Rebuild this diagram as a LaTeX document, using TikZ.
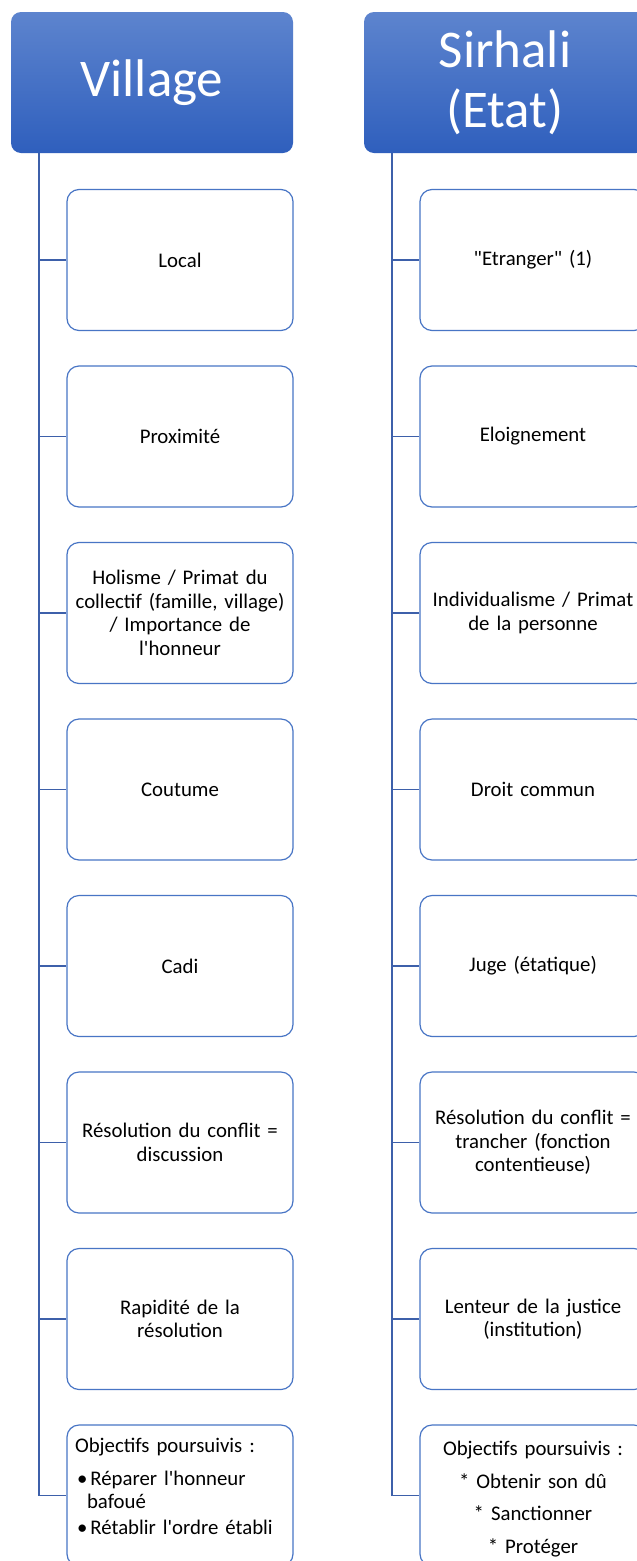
\documentclass[tikz,border=0pt]{standalone}
\usepackage{fontspec}
\setmainfont{Carlito}[Ligatures=TeXOff]
\definecolor{headtop}{RGB}{93,132,206}
\definecolor{headbot}{RGB}{47,95,189}
\definecolor{boxline}{RGB}{72,117,197}
\definecolor{conn}{RGB}{61,96,170}
\begin{document}
\begin{tikzpicture}[x=1pt,y=-1pt,
  header/.style={rounded corners=10pt, top color=headtop, bottom color=headbot,
    minimum width=282pt, minimum height=141pt, text=white,
    font=\fontsize{53}{60}\selectfont, align=center, inner sep=0pt},
  itembox/.style={rounded corners=12pt, draw=boxline, line width=1.2pt, fill=white,
    minimum width=226pt, minimum height=141pt, font=\fontsize{20.8}{23.5}\selectfont,
    align=center, inner sep=0pt, text width=222pt},
  lastbox/.style={itembox, text width=226pt},
  link/.style={draw=conn, line width=1.6pt}]
\clip (0,0) rectangle (637,1561);
\fill[white] (0,0) rectangle (637,1561);
% headers
\node[header] (h1) at (152,82.5) {Village};
\node[header] (h2) at (505,82.5) {Sirhali\\(Etat)};
\coordinate (t1) at (39,153);
\coordinate (t2) at (392,153);
% left column
\node[itembox] (L1) at (180,260) {Local};
\node[itembox] (L2) at (180,436.5) {Proximité};
\node[itembox] (L3) at (180,613) {Holisme / Primat du\\collectif (famille, village)\\/ Importance de\\l'honneur};
\node[itembox] (L4) at (180,789.5) {Coutume};
\node[itembox] (L5) at (180,966) {Cadi};
\node[itembox] (L6) at (180,1142.5) {Résolution du conflit =\\discussion};
\node[itembox] (L7) at (180,1319) {Rapidité de la\\résolution};
\node[lastbox] (L8) at (180,1495.5) {\begin{minipage}[c][141pt][t]{226pt}\raggedright
\vspace*{13pt}\hspace*{8pt}Objectifs poursuivis :\par\vspace{9.5pt}
\hspace*{10pt}\textbullet\hspace{3pt}Réparer l'honneur\par
\hspace*{20pt}bafoué\par\vspace{2.5pt}
\hspace*{10pt}\textbullet\hspace{3pt}Rétablir l'ordre établi\par
\end{minipage}};
% right column
\node[itembox] (R1) at (533,260) {"Etranger" (1)};
\node[itembox] (R2) at (533,436.5) {Eloignement};
\node[itembox] (R3) at (533,613) {Individualisme / Primat\\de la personne};
\node[itembox] (R4) at (533,789.5) {Droit commun};
\node[itembox] (R5) at (533,966) {Juge (étatique)};
\node[itembox] (R6) at (533,1142.5) {Résolution du conflit =\\trancher (fonction\\contentieuse)};
\node[itembox] (R7) at (533,1319) {Lenteur de la justice\\(institution)};
\node[lastbox] (R8) at (533,1495.5) {\begin{minipage}[c][141pt][t]{226pt}\centering
\vspace*{16pt}Objectifs poursuivis :\par\vspace{10pt}
* Obtenir son dû\par\vspace{8pt}
* Sanctionner\par\vspace{10pt}
* Protéger\par
\end{minipage}};
% connectors
\draw[link] (t1) |- (L8.west);
\draw[link] (t2) |- (R8.west);
\foreach \i in {1,...,7}{
  \draw[link] (t1 |- L\i.west) -- (L\i.west);
  \draw[link] (t2 |- R\i.west) -- (R\i.west);
}
\end{tikzpicture}
\end{document}
